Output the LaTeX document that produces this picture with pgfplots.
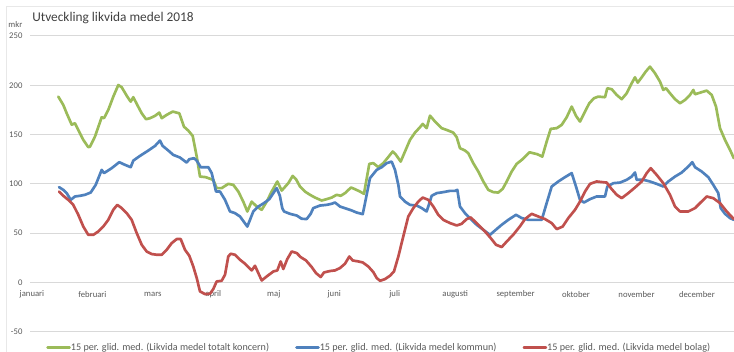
\documentclass[border=0pt]{standalone}
\usepackage{pgfplots}
\pgfplotsset{compat=1.18}
\usepackage{fontspec}
\setmainfont{Carlito}
\definecolor{cgreen}{RGB}{155,187,89}
\definecolor{cblue}{RGB}{79,129,189}
\definecolor{cred}{RGB}{192,80,77}
\definecolor{cgrid}{RGB}{217,217,217}
\definecolor{ctext}{RGB}{89,89,89}
\definecolor{ctitle}{RGB}{64,64,64}
\begin{document}
\begin{tikzpicture}[x=1pt,y=1pt]
\path[use as bounding box] (-22.5,-15.2) rectangle (528,248.8);
\draw[color={rgb,255:red,232;green,232;blue,232}, line width=0.6pt] (-18,-30) -- (-18,244.3) -- (540,244.3);
\begin{axis}[
  at={(0,0)}, anchor=south west,
  scale only axis, width=528pt, height=221.8pt,
  xmin=-0.033, xmax=11.613, ymin=-50, ymax=250,
  ytick={-50,0,50,100,150,200,250},
  xtick={0,1,2,3,4,5,6,7,8,9,10,11},
  xticklabels={januari,februari,mars,april,maj,juni,juli,augusti,september,oktober,november,december},
  ymajorgrids, grid style={cgrid, line width=0.75pt},
  axis line style={draw=none},
  major tick length=0pt,
  /pgf/number format/assume math mode=true,
  tick label style={font=\fontsize{6.5}{7}\selectfont, text=ctext, inner sep=0pt},
  xticklabel style={anchor=center, yshift=27.8pt},
  yticklabel style={anchor=east, xshift=-5.5pt},
  legend columns=3,
  legend cell align=left,
  legend style={at={(0,0)}, anchor=west, xshift=12pt, yshift=-11.85pt, draw=none, fill=none, inner sep=0pt,
    font=\fontsize{7.6}{9}\selectfont, text=ctext, nodes={inner xsep=0pt, inner ysep=1pt},
    /tikz/every even column/.append style={column sep=19.5pt}},
  legend image code/.code={\draw[#1, line width=2pt] (0pt,0pt) -- (16.5pt,0pt);},
  every axis plot/.append style={line width=2pt, line join=round, line cap=round, mark=none},
]
\addplot[cgreen] coordinates {
(0.435,188.5)(0.518,180)(0.574,171.6)(0.657,160)(0.711,161.5)(0.766,154.7)(0.849,144.6)(0.931,137.2)(0.959,137.8)
(1.042,148)(1.153,167.6)(1.191,166.6)(1.262,175)(1.345,188.5)(1.428,200.3)(1.484,198)(1.576,188.5)(1.633,183.4)
(1.676,187.9)(1.742,180)(1.815,171.6)(1.886,165.6)(1.952,166.6)(2.035,169)(2.106,172.3)(2.146,166.6)(2.228,170)
(2.328,173.3)(2.437,171.6)(2.514,158)(2.586,154)(2.658,148.7)(2.725,127.7)(2.779,107.4)(2.873,106.8)(2.999,104)
(3.055,95.7)(3.138,95.7)(3.247,100)(3.330,99)(3.413,92.2)(3.495,82)(3.562,72)(3.634,82)(3.717,77)(3.800,73.7)
(3.883,82)(3.965,92.2)(4.058,102.4)(4.131,93.2)(4.240,100.7)(4.313,108.1)(4.367,104.8)(4.433,97.3)(4.516,92.2)
(4.599,88.9)(4.682,86.1)(4.792,83.1)(4.875,84.5)(4.958,86.1)(5.040,88.9)(5.107,87.9)(5.178,90.6)(5.277,96.3)
(5.343,94.6)(5.426,92.2)(5.492,89.9)(5.580,120.3)(5.646,121)(5.729,117)(5.811,121)(5.878,126)(5.967,132.8)
(6.022,129.4)(6.099,122.6)(6.170,132.8)(6.253,144.6)(6.336,152)(6.419,157.5)(6.463,160.8)(6.529,156.5)(6.584,169.2)
(6.667,163.2)(6.777,156.5)(6.860,154.7)(6.969,152)(7.026,147.3)(7.080,136.2)(7.163,133.8)(7.217,131.1)(7.300,121)
(7.383,112.5)(7.466,102.4)(7.548,93.9)(7.631,91.6)(7.714,91.2)(7.787,95)(7.853,102.4)(7.935,112.5)(8.018,120.3)
(8.101,124.3)(8.230,132)(8.359,130.1)(8.442,127.7)(8.514,142.9)(8.581,155.8)(8.680,156.5)(8.762,159.8)(8.845,167.6)
(8.928,178.4)(8.999,169)(9.065,163.2)(9.148,173.3)(9.219,181.8)(9.297,186.9)(9.368,188.5)(9.479,187.9)(9.517,197)
(9.590,196)(9.673,190.2)(9.755,185.9)(9.838,191.9)(9.920,202)(9.975,208.1)(10.020,202.7)(10.086,208.1)(10.152,213.8)
(10.223,218.9)(10.306,212.2)(10.389,203.7)(10.443,195.3)(10.488,197)(10.554,191.9)(10.637,185.9)(10.720,181.8)
(10.802,185.1)(10.885,190.2)(10.940,195.3)(10.968,190.9)(11.051,192.5)(11.161,194.6)(11.244,190.2)(11.315,178.4)
(11.381,156.5)(11.464,144.6)(11.547,134.5)(11.61,126)
};
\addlegendentry{15 per. glid. med. (Likvida medel totalt koncern)}
\addplot[cblue] coordinates {
(0.447,96.7)(0.518,93.9)(0.574,90.6)(0.640,83.8)(0.711,87.2)(0.794,87.9)(0.877,88.9)(0.971,91.2)(1.054,99)
(1.153,114.2)(1.191,110.9)(1.318,115.9)(1.444,122)(1.538,119.3)(1.633,116.9)(1.676,123.6)(1.787,128.4)(1.924,133.8)
(2.035,138.5)(2.117,143.9)(2.162,138.5)(2.255,133.8)(2.337,129.4)(2.448,126.7)(2.559,121.6)(2.602,125)(2.680,126)
(2.725,123.6)(2.791,116.9)(2.917,116.9)(2.973,110.9)(3.044,92.2)(3.110,92.2)(3.193,83.8)(3.275,72)(3.358,70.3)
(3.441,66.9)(3.562,56.7)(3.661,72)(3.744,77)(3.838,80.5)(3.926,84.5)(3.992,90.6)(4.048,95.7)(4.100,88)(4.140,75.4)
(4.169,72)(4.268,69.6)(4.379,67.9)(4.461,64.6)(4.544,64.3)(4.610,69.6)(4.653,75.4)(4.764,78)(4.875,78.7)(4.958,79.8)
(5.012,81.1)(5.095,77)(5.206,74.7)(5.289,73)(5.371,70.9)(5.471,69.3)(5.509,80.5)(5.591,105.8)(5.702,114.2)
(5.785,116.9)(5.868,121)(5.950,122.6)(6.005,114.2)(6.060,99)(6.088,87.2)(6.170,82)(6.253,78.7)(6.364,78)(6.447,75.4)
(6.529,72)(6.612,87.9)(6.695,90.6)(6.804,91.6)(6.915,92.9)(6.998,92.9)(7.036,93.9)(7.080,77)(7.163,70.3)(7.257,64.3)
(7.356,58.5)(7.466,53.4)(7.576,48.3)(7.659,52.7)(7.770,58.5)(7.879,63.5)(8.007,68.6)(8.101,65.3)(8.210,63.5)
(8.432,63.5)(8.514,80.5)(8.597,97.3)(8.706,102.4)(8.817,106.8)(8.928,110.9)(8.999,97.3)(9.065,83.8)(9.131,81.1)
(9.231,84.5)(9.341,87.2)(9.479,87.2)(9.517,97.3)(9.617,100.7)(9.727,101.3)(9.838,104.1)(9.920,107.4)(9.975,111.5)
(10.003,104.1)(10.113,104.1)(10.223,102.4)(10.334,100)(10.443,97.3)(10.526,102.4)(10.637,107.4)(10.748,111.5)
(10.857,117.6)(10.923,122)(10.968,116.9)(11.079,112.5)(11.188,106.8)(11.270,99)(11.353,90.6)(11.393,75.4)
(11.464,69.6)(11.547,65.3)(11.61,63.5)
};
\addlegendentry{15 per. glid. med. (Likvida medel kommun)}
\addplot[cred] coordinates {
(0.447,92.2)(0.518,87.9)(0.600,83.8)(0.683,78.7)(0.766,68.6)(0.849,56.7)(0.931,48.3)(1.014,48.3)(1.097,51.7)
(1.179,56.7)(1.262,63.5)(1.345,73.7)(1.411,78.7)(1.484,75.4)(1.567,70.3)(1.649,63.5)(1.732,50.1)(1.815,38.2)
(1.897,31.4)(1.980,28.8)(2.063,28.1)(2.146,28.1)(2.228,33.1)(2.311,39.9)(2.394,44)(2.460,44)(2.531,33.1)(2.602,27.1)
(2.668,16.2)(2.725,4.5)(2.779,-9.1)(2.862,-11.8)(2.945,-11.5)(2.999,-6.7)(3.055,1)(3.138,1.7)(3.193,7.8)(3.247,26.3)
(3.287,29.1)(3.358,28.1)(3.441,23)(3.524,19)(3.634,12.2)(3.689,16.9)(3.800,2)(3.883,6.1)(3.992,11.1)(4.058,12.2)
(4.114,21.3)(4.157,13.6)(4.223,23.7)(4.296,31.4)(4.379,29.8)(4.445,25.7)(4.533,22.3)(4.627,15.6)(4.698,9.5)(4.776,5.5)
(4.830,10.1)(4.930,11.6)(5.012,12.2)(5.095,14.6)(5.178,19)(5.249,26.3)(5.305,22.3)(5.398,21.3)(5.471,20.3)(5.563,16.2)
(5.646,10.5)(5.702,4.5)(5.757,1.7)(5.840,3.4)(5.922,6.8)(5.988,11.1)(6.060,26.3)(6.142,46.6)(6.225,66.9)(6.308,75.4)
(6.390,82)(6.463,86.1)(6.556,83.8)(6.639,77)(6.721,68.6)(6.804,63.5)(6.915,60.2)(7.026,57.8)(7.108,59.5)(7.191,64.3)
(7.257,65.9)(7.328,61.8)(7.411,56.7)(7.494,51.7)(7.588,45)(7.676,38.2)(7.770,35.9)(7.853,41.5)(7.962,48.5)(8.073,57)
(8.156,64.3)(8.266,69.6)(8.375,66.9)(8.486,64.3)(8.597,60.2)(8.680,54.1)(8.779,56.7)(8.872,65.3)(8.983,73.7)(9.065,82)
(9.148,92.2)(9.231,100)(9.341,102.4)(9.507,101.3)(9.590,94.6)(9.673,88.9)(9.755,85.5)(9.864,90.6)(9.975,96.3)
(10.086,102.4)(10.169,110.9)(10.235,115.9)(10.334,109.1)(10.443,100.7)(10.554,88.9)(10.637,77)(10.720,72)(10.857,72)
(10.968,75.4)(11.051,80.5)(11.161,87.2)(11.270,85.5)(11.381,80.5)(11.492,72)(11.61,64.3)
};
\addlegendentry{15 per. glid. med. (Likvida medel bolag)}
\end{axis}
\node[anchor=base west, font=\fontsize{10}{12}\selectfont, text=ctitle, inner sep=0pt] at (1.5,232.3) {Utveckling likvida medel 2018};
\node[anchor=base east, font=\fontsize{6.5}{7}\selectfont, text=ctext, inner sep=0pt] at (-5.6,228.2) {mkr};
\end{tikzpicture}
\end{document}
